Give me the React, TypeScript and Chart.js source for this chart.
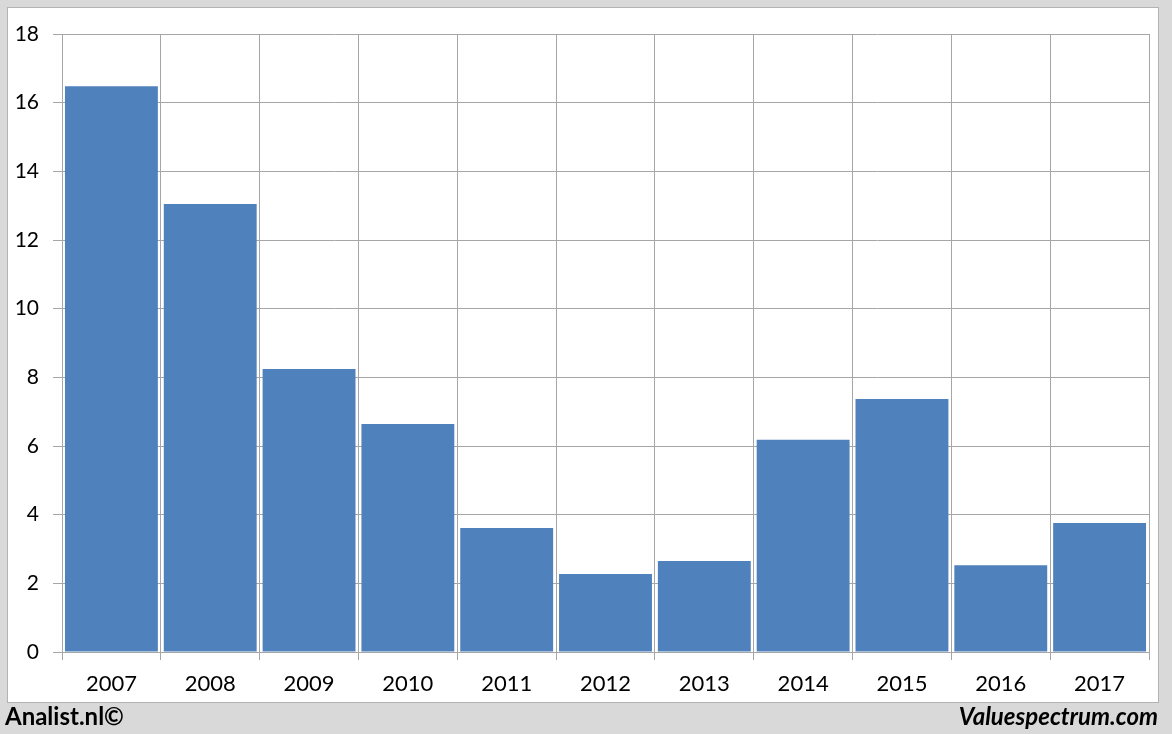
import React, { useEffect, useRef } from "react";
import { Chart, registerables } from "chart.js";

Chart.register(...registerables);

const years = ["2007", "2008", "2009", "2010", "2011", "2012", "2013", "2014", "2015", "2016", "2017"];
const values = [16.48, 13.05, 8.24, 6.64, 3.61, 2.27, 2.65, 6.18, 7.37, 2.53, 3.76];
const yMin = 0;
const yMax = 18;
const yStep = 2;

const FONT = "Lato, 'Open Sans', sans-serif";
const GRID = "#a6a6a6";

export default function App() {
  const ref = useRef<HTMLCanvasElement | null>(null);

  useEffect(() => {
    document.body.style.margin = "0";
    const canvas = ref.current;
    if (!canvas) return;
    const chart = new Chart(canvas, {
      type: "bar",
      data: {
        labels: years,
        datasets: [
          {
            data: values,
            backgroundColor: "#4f81bd",
            borderWidth: 0,
            categoryPercentage: 1,
            barPercentage: 0.94,
          },
        ],
      },
      options: {
        responsive: false,
        animation: false,
        events: [],
        layout: { padding: { left: 0, right: 23, top: 34, bottom: 0 } },
        plugins: { legend: { display: false }, tooltip: { enabled: false } },
        scales: {
          x: {
            grid: { color: GRID, lineWidth: 1, offset: true, tickLength: 8, drawTicks: true },
            border: { color: GRID, width: 1 },
            ticks: { color: "#000", font: { family: FONT, size: 22 }, padding: 11, maxRotation: 0 },
            afterFit: (s: any) => { s.height = 82; },
          },
          y: {
            min: yMin,
            max: yMax,
            grid: { color: GRID, lineWidth: 1, tickLength: 9 },
            border: { color: GRID, width: 1 },
            ticks: { stepSize: yStep, color: "#000", font: { family: FONT, size: 21 }, padding: 14 },
            afterFit: (s: any) => { s.width = 62; },
          },
        },
      },
    });
    return () => chart.destroy();
  }, []);

  return (
    <div style={{ position: "fixed", left: 0, top: 0, width: 1172, height: 734, background: "#d9d9d9", overflow: "hidden" }}>
      <div style={{ position: "absolute", left: 7, top: 7, width: 1150, height: 694, background: "#fff", border: "1px solid #b3b3b3" }} />
      <canvas ref={ref} width={1172} height={734} style={{ position: "absolute", left: 0, top: 0, width: 1172, height: 734 }} />
      <div style={{ position: "absolute", left: 5, top: 701, fontFamily: FONT, fontWeight: 700, fontSize: 24, lineHeight: "30px", color: "#000" }}>Analist.nl©</div>
      <div style={{ position: "absolute", right: 14, top: 701, fontFamily: FONT, fontWeight: 700, fontStyle: "italic", fontSize: 24, lineHeight: "30px", color: "#000" }}>Valuespectrum.com</div>
    </div>
  );
}
